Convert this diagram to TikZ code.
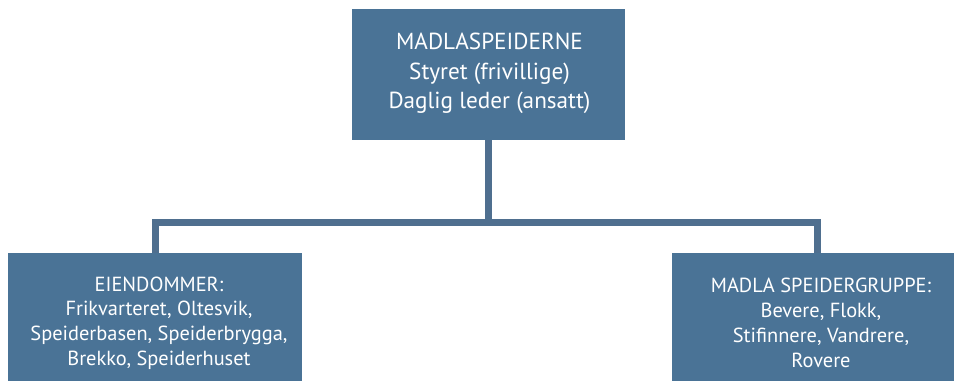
\documentclass[tikz,border=0pt]{standalone}
\usepackage{fontspec}
\setmainfont{PT Sans}
\definecolor{boxblue}{HTML}{4A7396}
\definecolor{lineblue}{HTML}{4F6F8F}
\begin{document}
\begin{tikzpicture}[x=1pt,y=-1pt,
  orgbox/.style={fill=boxblue,inner sep=0pt,anchor=center},
  boxtext/.style={text=white,align=center,inner sep=0pt},
  topfont/.style={font=\fontsize{23.2}{29.5}\selectfont},
  subfont/.style={font=\fontsize{20.4}{24.8}\selectfont},
  conn/.style={draw=lineblue,line width=7pt}]
\useasboundingbox (0,0) rectangle (954,381);
\node[orgbox,minimum width=273pt,minimum height=131pt,
  label={[boxtext,topfont,xshift=1pt,yshift=1pt]center:MADLASPEIDERNE\\Styret (frivillige)\\Daglig leder (ansatt)}] (top) at (488.5,74.5) {};
\node[orgbox,minimum width=294pt,minimum height=128pt,
  label={[boxtext,subfont,xshift=4pt,yshift=-6pt]center:EIENDOMMER:\\Frikvarteret, Oltesvik,\\Speiderbasen, Speiderbrygga,\\Brekko, Speiderhuset}] (left) at (155,317) {};
\node[orgbox,minimum width=282pt,minimum height=128pt,
  label={[boxtext,subfont,xshift=8pt,yshift=-6pt]center:MADLA SPEIDERGRUPPE:\\Bevere, Flokk,\\Stifinnere, Vandrere,\\Rovere}] (right) at (813,317) {};
\coordinate (bus) at (488,222.5);
\draw[conn] (top.south) -- (top.south |- bus);
\draw[conn] (left.north) |- (bus) -| ([xshift=4pt]right.north);
\end{tikzpicture}
\end{document}
